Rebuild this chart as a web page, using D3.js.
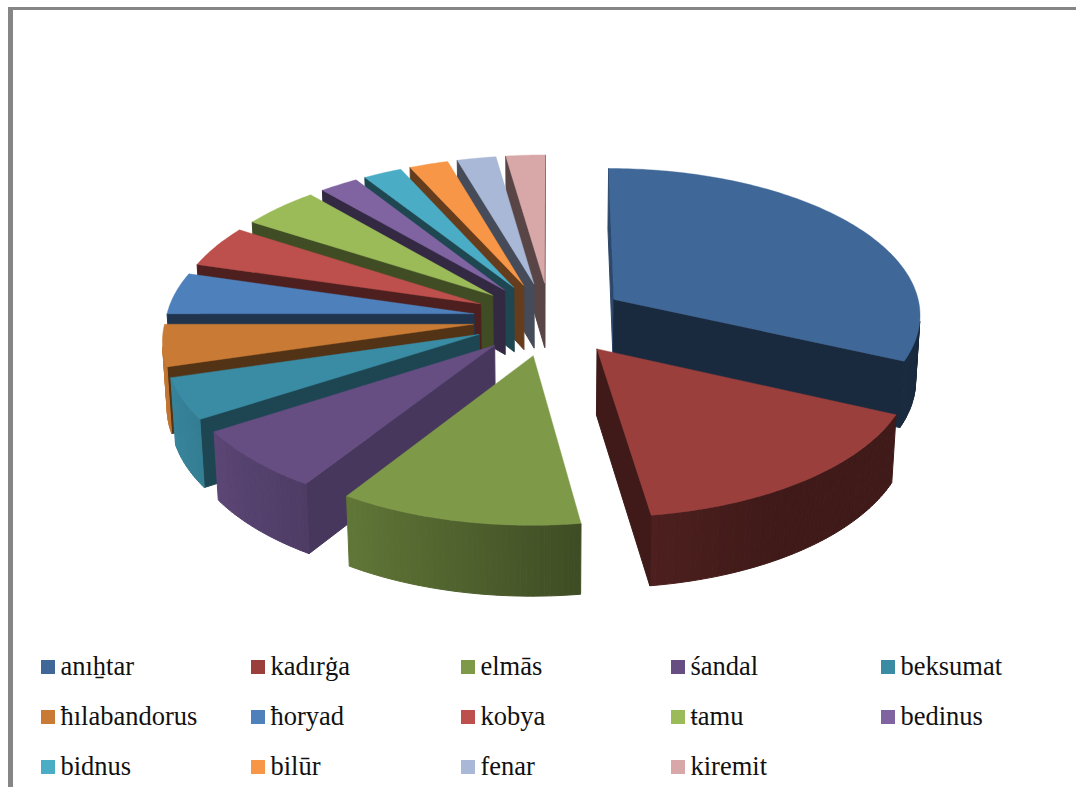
<!DOCTYPE html>
<html>
<head>
<meta charset="utf-8">
<style>
  html, body { margin: 0; padding: 0; background: #fff; }
  svg { display: block; }
  .legend text { font-family: "Liberation Serif", serif; font-size: 26.5px; fill: #111; }
</style>
<script src="https://cdn.jsdelivr.net/npm/d3@7"></script>
</head>
<body>
<svg width="1076" height="787"></svg>
<script>
var categories = ['anıẖtar', 'kadırġa', 'elmās', 'śandal', 'beksumat',
                  'ħılabandorus', 'ħoryad', 'kobya', 'ŧamu', 'bedinus',
                  'bidnus', 'bilūr', 'fenar', 'kiremit']
var values = [14, 7, 5, 3, 2, 2, 2, 2, 2, 1, 1, 1, 1, 1]
var colors = ['#3f6797', '#9a3f3c', '#7e9a48', '#664e83', '#3a8ca4',
              '#c97b35', '#4e80bc', '#bd4f4c', '#9bbb59', '#8064a2',
              '#4bacc6', '#f79646', '#a9b8d7', '#d8a8a8']

var svg = d3.select('svg')

// frame, only top and left are inside the picture
svg.append('rect').attr('x', 8).attr('y', 7).attr('width', 1068).attr('height', 3).attr('fill', '#868686')
svg.append('rect').attr('x', 8).attr('y', 7).attr('width', 5).attr('height', 780).attr('fill', '#868686')

// projection of the tilted pie
var cx = 550, cy = 319
var fX = 308, fY = 146.6, fH = 66
var persp = 0.093, vert = 0.012
var explode = 0.25

function project(X, Y, z) {
  var w = 1 + persp * Y + vert * z
  return [cx + fX * X / w, cy - fY * Y / w + fH * z / w]
}

// how much light the outer wall gets, by its direction (deg clockwise from back)
var wallLight = d3.scaleLinear()
  .domain([0, 150, 172, 213, 238, 270, 360])
  .range([0.41, 0.41, 0.5, 0.77, 0.9, 1, 1])
  .clamp(true)

// same for the flat walls along the radius
var sideLight = d3.scaleLinear()
  .domain([123, 147, 164])
  .range([0.7, 0.5, 0.41])
  .clamp(true)

function shade(color, k) {
  var c = d3.rgb(color)
  return d3.rgb(c.r * k, c.g * k, c.b * k).formatHex()
}

function area(p) {
  var s = 0
  for (var i = 0; i < p.length; i++) {
    var a = p[i], b = p[(i + 1) % p.length]
    s += a[0] * b[1] - b[0] * a[1]
  }
  return s / 2
}

var arcs = d3.pie().sort(null).startAngle(0).endAngle(2 * Math.PI)(values)

var line = d3.line()
var step = 1 * Math.PI / 180

var slices = arcs.map(function(d, i) {
  var mid = (d.startAngle + d.endAngle) / 2
  var ox = explode * Math.sin(mid), oy = explode * Math.cos(mid)

  // boundary of the top, clockwise seen from above: apex, then rim
  var rim = []
  var n = Math.max(1, Math.ceil((d.endAngle - d.startAngle) / step))
  for (var j = 0; j <= n; j++) {
    var a = d.startAngle + (d.endAngle - d.startAngle) * j / n
    rim.push({ a: a, X: ox + Math.sin(a), Y: oy + Math.cos(a) })
  }
  return { i: i, ox: ox, oy: oy, rim: rim, backY: oy + Math.cos(mid) }
})

// far slices first
slices.sort(function(a, b) { return b.backY - a.backY })

var pie3d = svg.append('g').attr('class', 'pie')

slices.forEach(function(s) {
  var color = colors[s.i]
  var g = pie3d.append('g')
  var apex = { X: s.ox, Y: s.oy }
  var loop = [apex].concat(s.rim)
  var deg = 180 / Math.PI

  for (var j = 0; j < loop.length; j++) {
    var p = loop[j], q = loop[(j + 1) % loop.length]
    var poly = [project(p.X, p.Y, 0), project(q.X, q.Y, 0), project(q.X, q.Y, 1), project(p.X, p.Y, 1)]
    if (area(poly) >= 0) continue

    var k
    if (j == 0) k = sideLight(q.a * deg - 90)
    else if (j == loop.length - 1) k = sideLight(p.a * deg + 90)
    else k = wallLight((p.a + q.a) / 2 * deg)
    var fill = shade(color, k)

    g.append('path')
      .attr('d', line(poly) + 'Z')
      .attr('fill', fill)
      .attr('stroke', fill)
      .attr('stroke-width', 1)
  }

  g.append('path')
    .attr('d', line(loop.map(function(p) { return project(p.X, p.Y, 0) })) + 'Z')
    .attr('fill', color)
    .attr('stroke', color)
    .attr('stroke-width', 0.4)
})

// legend
var legendX = d3.scalePoint().domain(d3.range(5)).range([41, 881])
var legendY = d3.scalePoint().domain(d3.range(3)).range([660, 760])

var legend = svg.append('g').attr('class', 'legend')
  .selectAll('g')
  .data(categories)
  .enter().append('g')
  .attr('transform', function(d, i) {
    return 'translate(' + legendX(i % 5) + ',' + legendY(Math.floor(i / 5)) + ')'
  })

legend.append('rect')
  .attr('width', 14)
  .attr('height', 14)
  .attr('fill', function(d, i) { return colors[i] })

legend.append('text')
  .attr('x', 19.5)
  .attr('y', 15)
  .text(function(d) { return d })
</script>
</body>
</html>
